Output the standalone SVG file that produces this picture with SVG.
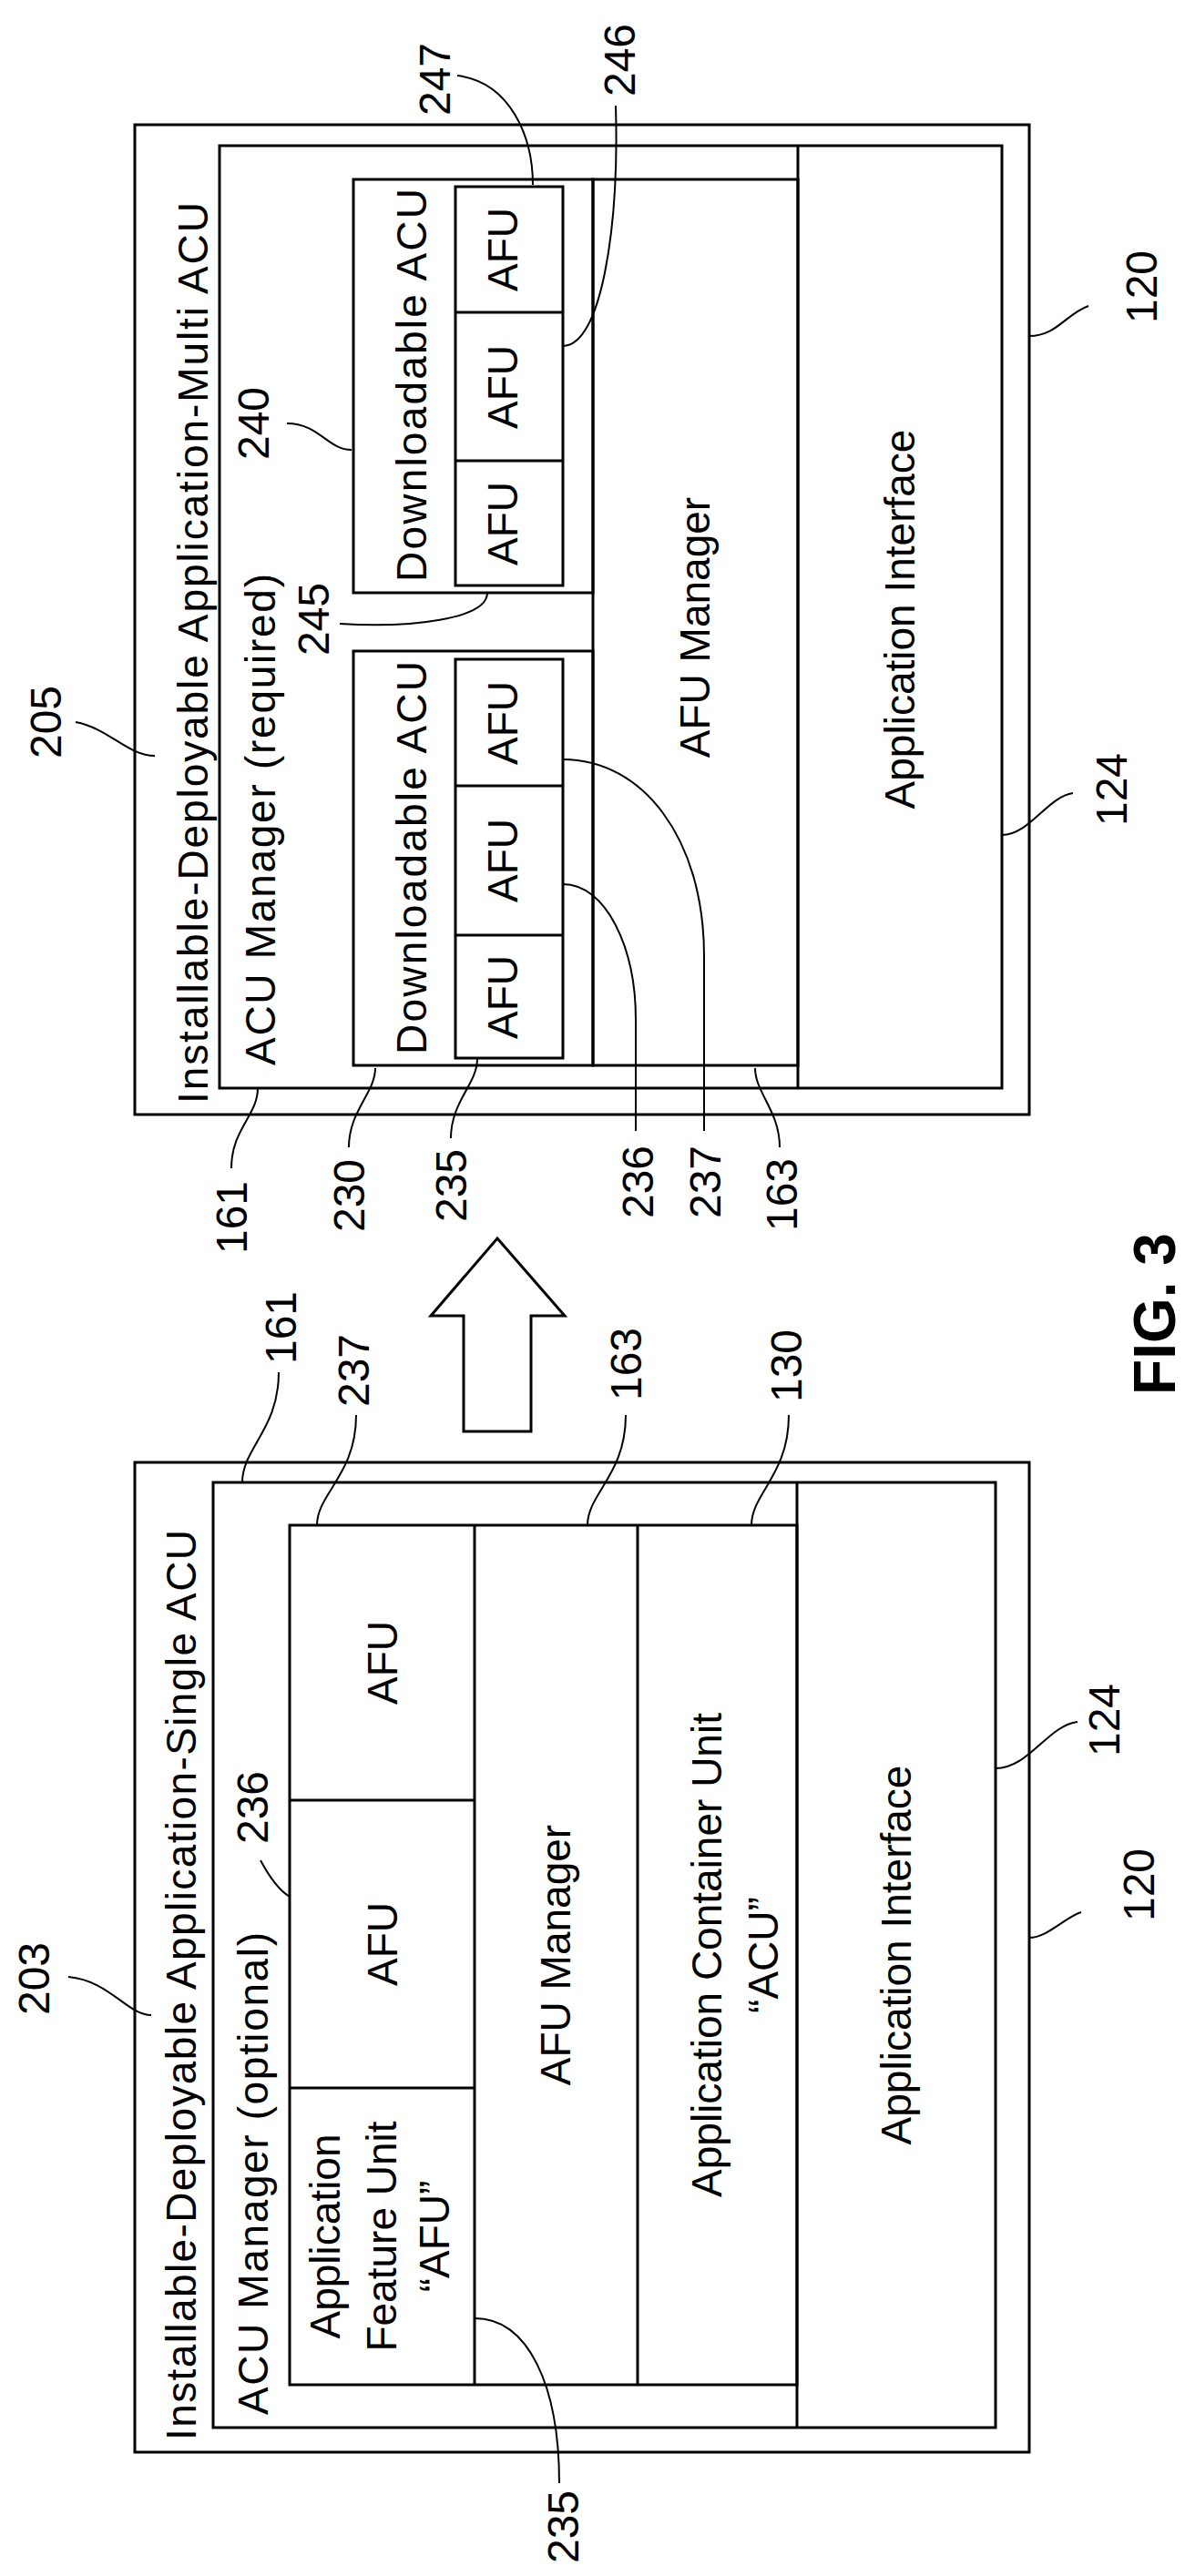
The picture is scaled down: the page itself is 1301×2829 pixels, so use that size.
<svg xmlns="http://www.w3.org/2000/svg" width="1301" height="2829" viewBox="0 0 1301 2829">
<style>
.b{fill:none;stroke:#000;stroke-width:3}
.l{fill:none;stroke:#000;stroke-width:2}
text{font-family:"Liberation Sans",Arial,sans-serif;font-size:46px;fill:#000}
.n{font-size:48px;text-anchor:middle}
.m{text-anchor:middle}
.f{font-size:64px;font-weight:bold;text-anchor:middle}
</style>
<rect width="1301" height="2829" fill="#fff"/>
<g id="multi">
<rect class="b" x="148" y="137" width="982" height="1087"/>
<rect class="b" x="241" y="160" width="859" height="1035"/>
<line class="b" x1="876" y1="160" x2="876" y2="1195"/>
<text transform="translate(228,1212) rotate(-90)" textLength="990" lengthAdjust="spacing">Installable-Deployable Application-Multi ACU</text>
<text transform="translate(302,1170) rotate(-90)" textLength="540" lengthAdjust="spacing">ACU Manager (required)</text>
<rect class="b" x="651" y="197" width="225" height="973"/>
<text class="m" transform="translate(779,689) rotate(-90)">AFU Manager</text>
<text class="m" transform="translate(1004,680) rotate(-90)">Application Interface</text>
</g>
<g id="acu240">
<rect class="b" x="388" y="197" width="263" height="454"/>
<text transform="translate(468,639) rotate(-90)" textLength="432" lengthAdjust="spacing">Downloadable ACU</text>
<rect class="b" x="500" y="205" width="118" height="438"/>
<line class="b" x1="500" y1="343" x2="618" y2="343"/>
<line class="b" x1="500" y1="506" x2="618" y2="506"/>
<text class="m" transform="translate(568,274) rotate(-90)">AFU</text>
<text class="m" transform="translate(568,425) rotate(-90)">AFU</text>
<text class="m" transform="translate(568,575) rotate(-90)">AFU</text>
</g>
<g id="acu230">
<rect class="b" x="388" y="715" width="263" height="455"/>
<text transform="translate(468,1158) rotate(-90)" textLength="432" lengthAdjust="spacing">Downloadable ACU</text>
<rect class="b" x="500" y="724" width="118" height="438"/>
<line class="b" x1="500" y1="863" x2="618" y2="863"/>
<line class="b" x1="500" y1="1027" x2="618" y2="1027"/>
<text class="m" transform="translate(568,794) rotate(-90)">AFU</text>
<text class="m" transform="translate(568,945) rotate(-90)">AFU</text>
<text class="m" transform="translate(568,1095) rotate(-90)">AFU</text>
</g>
<g id="single">
<rect class="b" x="148" y="1606" width="982" height="1087"/>
<rect class="b" x="234" y="1628" width="859" height="1038"/>
<line class="b" x1="875" y1="1628" x2="875" y2="2666"/>
<text transform="translate(215,2680) rotate(-90)" textLength="1000" lengthAdjust="spacing">Installable-Deployable Application-Single ACU</text>
<text transform="translate(294,2652) rotate(-90)" textLength="530" lengthAdjust="spacing">ACU Manager (optional)</text>
<text class="m" transform="translate(1000,2147) rotate(-90)">Application Interface</text>
</g>
<g id="acu130">
<rect class="b" x="318" y="1675" width="557" height="944"/>
<line class="b" x1="521" y1="1675" x2="521" y2="2619"/>
<line class="b" x1="700" y1="1675" x2="700" y2="2619"/>
<line class="b" x1="318" y1="1977" x2="521" y2="1977"/>
<line class="b" x1="318" y1="2293" x2="521" y2="2293"/>
<text class="m" transform="translate(436,1826) rotate(-90)">AFU</text>
<text class="m" transform="translate(436,2135) rotate(-90)">AFU</text>
<text class="m" transform="translate(373,2456) rotate(-90)">Application</text>
<text class="m" transform="translate(435,2456) rotate(-90)">Feature Unit</text>
<text class="m" transform="translate(493,2456) rotate(-90)">“AFU”</text>
<text class="m" transform="translate(626,2147) rotate(-90)">AFU Manager</text>
<text class="m" transform="translate(792,2147) rotate(-90)">Application Container Unit</text>
<text class="m" transform="translate(854,2147) rotate(-90)">“ACU”</text>
</g>
<g id="arrow">
<polygon class="b" points="546,1360 620,1445 583,1445 583,1572 509,1572 509,1445 473,1445"/>
</g>
<g id="connectors">
<path class="l" d="M83,793 C120,800 140,830 170,830"/>
<path class="l" d="M315,465 C350,465 360,494 386,494"/>
<path class="l" d="M373,685 C450,690 535,680 535,651"/>
<path class="l" d="M502,83 C560,90 585,150 585,203"/>
<path class="l" d="M676,116 C680,250 660,380 618,380"/>
<path class="l" d="M1195,336 C1170,345 1160,369 1130,369"/>
<path class="l" d="M1178,871 C1150,875 1130,917 1100,917"/>
<path class="l" d="M618,971 C665,971 698,1040 698,1120 L698,1242"/>
<path class="l" d="M618,834 C705,834 773,920 773,1050 L773,1242"/>
<path class="l" d="M254,1283 C254,1240 283,1225 283,1195"/>
<path class="l" d="M383,1260 C383,1220 412,1200 412,1173"/>
<path class="l" d="M495,1250 C495,1210 524,1190 524,1163"/>
<path class="l" d="M856,1260 C856,1220 829,1200 829,1173"/>
<path class="l" d="M306,1507 C306,1570 266,1590 266,1628"/>
<path class="l" d="M391,1554 C391,1620 348,1640 348,1675"/>
<path class="l" d="M687,1554 C687,1620 645,1640 645,1675"/>
<path class="l" d="M866,1554 C866,1620 825,1640 825,1675"/>
<path class="l" d="M286,2043 C295,2060 305,2075 318,2083"/>
<path class="l" d="M1183,1891 C1150,1895 1130,1942 1093,1942"/>
<path class="l" d="M1187,2100 C1170,2105 1150,2128 1130,2128"/>
<path class="l" d="M75,2171 C120,2175 140,2213 166,2213"/>
<path class="l" d="M614,2727 C614,2620 580,2546 521,2546"/>
</g>
<g id="labels">
<text class="n" transform="translate(67,793) rotate(-90)">205</text>
<text class="n" transform="translate(295,465) rotate(-90)">240</text>
<text class="n" transform="translate(361,680) rotate(-90)">245</text>
<text class="n" transform="translate(494,87) rotate(-90)">247</text>
<text class="n" transform="translate(697,66) rotate(-90)">246</text>
<text class="n" transform="translate(1270,315) rotate(-90)">120</text>
<text class="n" transform="translate(1237,867) rotate(-90)">124</text>
<text class="n" transform="translate(271,1337) rotate(-90)">161</text>
<text class="n" transform="translate(400,1313) rotate(-90)">230</text>
<text class="n" transform="translate(512,1302) rotate(-90)">235</text>
<text class="n" transform="translate(717,1298) rotate(-90)">236</text>
<text class="n" transform="translate(791,1298) rotate(-90)">237</text>
<text class="n" transform="translate(875,1312) rotate(-90)">163</text>
<text class="n" transform="translate(325,1458) rotate(-90)">161</text>
<text class="n" transform="translate(405,1505) rotate(-90)">237</text>
<text class="n" transform="translate(704,1498) rotate(-90)">163</text>
<text class="n" transform="translate(880,1500) rotate(-90)">130</text>
<text class="n" transform="translate(294,1985) rotate(-90)">236</text>
<text class="n" transform="translate(1229,1889) rotate(-90)">124</text>
<text class="n" transform="translate(1267,2070) rotate(-90)">120</text>
<text class="n" transform="translate(54,2173) rotate(-90)">203</text>
<text class="n" transform="translate(635,2775) rotate(-90)">235</text>
<text class="f" transform="translate(1290,1443) rotate(-90)">FIG. 3</text>
</g>
</svg>
